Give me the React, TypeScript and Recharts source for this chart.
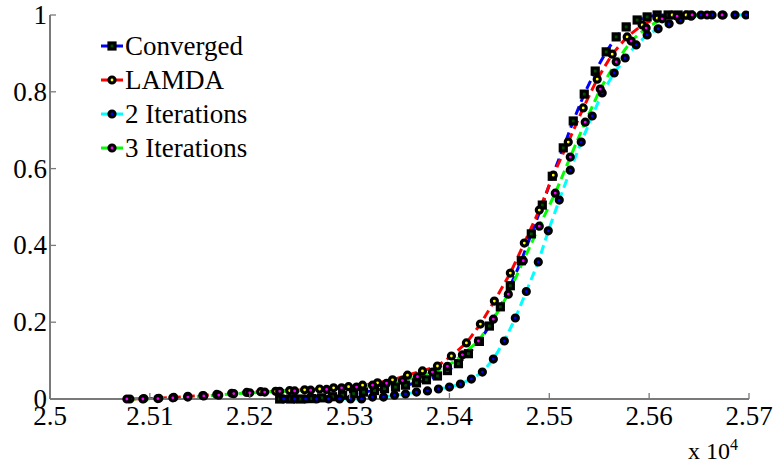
import React from "react";
import { LineChart, Line, XAxis, YAxis } from "recharts";

const xTicks = [2.5, 2.51, 2.52, 2.53, 2.54, 2.55, 2.56, 2.57];
const yTicks = [0, 0.2, 0.4, 0.6, 0.8, 1];
const xTickLabels = ["2.5", "2.51", "2.52", "2.53", "2.54", "2.55", "2.56", "2.57"];
const yTickLabels = ["0", "0.2", "0.4", "0.6", "0.8", "1"];

const convergedX = [2.523, 2.5241, 2.5251, 2.5262, 2.5272, 2.5283, 2.5293, 2.5304, 2.5314, 2.5325, 2.5335, 2.5346, 2.5356, 2.5367, 2.5377, 2.5388, 2.5398, 2.5409, 2.5419, 2.543, 2.544, 2.5451, 2.5461, 2.5472, 2.5482, 2.5493, 2.5503, 2.5514, 2.5524, 2.5535, 2.5546, 2.5557, 2.5567, 2.5577, 2.5588, 2.5598, 2.5608, 2.5619, 2.5629, 2.564];
const convergedY = [0, 0, 0, 0.001, 0.003, 0.006, 0.01, 0.014, 0.018, 0.022, 0.027, 0.031, 0.036, 0.042, 0.05, 0.06, 0.074, 0.092, 0.118, 0.15, 0.19, 0.24, 0.295, 0.36, 0.43, 0.505, 0.58, 0.654, 0.724, 0.794, 0.854, 0.904, 0.943, 0.969, 0.987, 0.995, 1, 1, 1, 1];

const lamdaX = [2.508, 2.5094, 2.5109, 2.5124, 2.5138, 2.5153, 2.5167, 2.5182, 2.5197, 2.5211, 2.5226, 2.524, 2.5255, 2.527, 2.5284, 2.5299, 2.5313, 2.5328, 2.5343, 2.5358, 2.5373, 2.5388, 2.5402, 2.5417, 2.5431, 2.5445, 2.5461, 2.5475, 2.549, 2.5504, 2.5519, 2.5534, 2.5548, 2.5563, 2.5578, 2.5593, 2.5608, 2.5623, 2.5637];
const lamdaY = [0, 0.001, 0.002, 0.004, 0.007, 0.009, 0.012, 0.015, 0.017, 0.019, 0.02, 0.022, 0.024, 0.026, 0.029, 0.032, 0.036, 0.042, 0.05, 0.062, 0.073, 0.086, 0.112, 0.146, 0.195, 0.255, 0.328, 0.406, 0.492, 0.583, 0.669, 0.758, 0.833, 0.898, 0.943, 0.974, 0.992, 1, 1];

const iter2X = [2.5234, 2.5245, 2.5256, 2.5267, 2.5279, 2.529, 2.5301, 2.5312, 2.5323, 2.5334, 2.5345, 2.5356, 2.5367, 2.5378, 2.5389, 2.54, 2.5411, 2.5422, 2.5433, 2.5444, 2.5455, 2.5466, 2.5477, 2.5489, 2.5499, 2.551, 2.5521, 2.5532, 2.5543, 2.5553, 2.5565, 2.5576, 2.5587, 2.5598, 2.5609, 2.562, 2.5631, 2.5642, 2.5652, 2.5663, 2.5674, 2.5686, 2.5697];
const iter2Y = [0, 0, 0, 0, 0, 0, 0, 0, 0.005, 0.005, 0.01, 0.013, 0.018, 0.021, 0.026, 0.031, 0.039, 0.052, 0.07, 0.104, 0.151, 0.211, 0.28, 0.357, 0.438, 0.518, 0.596, 0.669, 0.737, 0.797, 0.849, 0.888, 0.922, 0.948, 0.964, 0.977, 0.987, 0.997, 1, 1, 1, 1, 1];

const iter3X = [2.5077, 2.5093, 2.5108, 2.5123, 2.5138, 2.5154, 2.5169, 2.5184, 2.52, 2.5215, 2.523, 2.5245, 2.5261, 2.5277, 2.5292, 2.5307, 2.5323, 2.5337, 2.5353, 2.5368, 2.5383, 2.5398, 2.5413, 2.5429, 2.5444, 2.5459, 2.5474, 2.549, 2.5506, 2.5521, 2.5536, 2.5551, 2.5567, 2.5582, 2.5597, 2.5613, 2.5628, 2.5643, 2.5658, 2.5673];
const iter3Y = [0, 0, 0.001, 0.003, 0.005, 0.008, 0.01, 0.014, 0.016, 0.018, 0.02, 0.021, 0.023, 0.025, 0.029, 0.031, 0.036, 0.041, 0.048, 0.058, 0.07, 0.085, 0.115, 0.151, 0.208, 0.273, 0.36, 0.45, 0.536, 0.63, 0.721, 0.807, 0.878, 0.932, 0.966, 0.99, 0.997, 1, 1, 1];

const seriesNames = ["Converged", "LAMDA", "2 Iterations", "3 Iterations"];
const lineColors = ["#0000ff", "#ff0000", "#00ffff", "#00ff00"];
const markerFaces = ["#004d00", "#ffff00", "#0000ff", "#ff00ff"];
const markerShapes = ["square", "circle", "circle", "circle"];

const toRows = (xs: number[], ys: number[]) => xs.map((x, i) => ({ x, y: ys[i] }));
const seriesData = [
  toRows(convergedX, convergedY),
  toRows(lamdaX, lamdaY),
  toRows(iter2X, iter2Y),
  toRows(iter3X, iter3Y),
];

const FONT = "serif";
const AXIS = "#7a7a7a";

function Marker({ cx, cy, shape, face }: any) {
  if (cx == null || cy == null) return null;
  if (shape === "square") {
    return <rect x={cx - 3} y={cy - 3} width={6} height={6} fill={face} stroke="#000" strokeWidth={3.2} />;
  }
  return <circle cx={cx} cy={cy} r={3} fill={face} stroke="#000" strokeWidth={3.2} />;
}

function Label({ x, y, anchor, size, children }: any) {
  return (
    <text x={x} y={y} textAnchor={anchor} fontSize={size} fill="#000" fontFamily="Liberation Serif" style={{ fontFamily: "'Liberation Serif', serif" }}>
      {children}
    </text>
  );
}

function XTick({ x, y, payload }: any) {
  const i = xTicks.indexOf(payload.value);
  return (
    <g>
      <line x1={x} x2={x} y1={y} y2={y - 6} stroke={AXIS} strokeWidth={1.3} />
      <Label x={x} y={y + 26} anchor="middle" size={27}>
        {i >= 0 ? xTickLabels[i] : payload.value}
      </Label>
    </g>
  );
}

function YTick({ x, y, payload }: any) {
  const i = yTicks.indexOf(payload.value);
  return (
    <g>
      <line x1={x} x2={x + 6} y1={y} y2={y} stroke={AXIS} strokeWidth={1.3} />
      <Label x={x - 3} y={y + 9} anchor="end" size={27}>
        {i >= 0 ? yTickLabels[i] : payload.value}
      </Label>
    </g>
  );
}

export default function App() {
  return (
    <div style={{ position: "absolute", left: 0, top: 0, width: 773, height: 472, background: "#fff" }}>
      <LineChart width={773} height={472} margin={{ top: 15, right: 24, left: 0, bottom: 43 }}>
        <XAxis
          type="number"
          dataKey="x"
          domain={[2.5, 2.57]}
          ticks={xTicks}
          allowDataOverflow
          height={30}
          tickSize={0}
          tickMargin={0}
          tickLine={false}
          axisLine={{ stroke: AXIS, strokeWidth: 2 }}
          tick={<XTick />}
          interval={0}
        />
        <YAxis
          type="number"
          dataKey="y"
          domain={[0, 1]}
          ticks={yTicks}
          width={50}
          tickSize={0}
          tickMargin={0}
          tickLine={false}
          axisLine={{ stroke: AXIS, strokeWidth: 2 }}
          tick={<YTick />}
          interval={0}
        />
        {seriesData.map((d, i) => (
          <Line
            key={seriesNames[i]}
            data={d}
            dataKey="y"
            name={seriesNames[i]}
            type="linear"
            stroke={lineColors[i]}
            strokeWidth={3}
            strokeDasharray="9 5"
            isAnimationActive={false}
            dot={<Marker shape={markerShapes[i]} face={markerFaces[i]} />}
            activeDot={false}
          />
        ))}
      </LineChart>
      <div style={{ position: "absolute", left: 0, top: 0, width: 773, height: 472, pointerEvents: "none", fontFamily: FONT }}>
        {seriesNames.map((name, i) => {
          const y = 46 + i * 34;
          return (
            <div key={name} style={{ position: "absolute", left: 100, top: y - 17, height: 34, display: "flex", alignItems: "center" }}>
              <svg width={25} height={34}>
                <line x1={1} x2={23} y1={17} y2={17} stroke={lineColors[i]} strokeWidth={3} />
                <Marker cx={12} cy={17} shape={markerShapes[i]} face={markerFaces[i]} />
              </svg>
              <span style={{ fontFamily: FONT, fontSize: 27, lineHeight: "34px", color: "#000" }}>{name}</span>
            </div>
          );
        })}
        <div style={{ position: "absolute", left: 688, top: 436, fontFamily: FONT, fontSize: 24, lineHeight: "30px", whiteSpace: "nowrap" }}>
          x 10<sup style={{ fontSize: 16, verticalAlign: "top", position: "relative", top: -6 }}>4</sup>
        </div>
      </div>
    </div>
  );
}
